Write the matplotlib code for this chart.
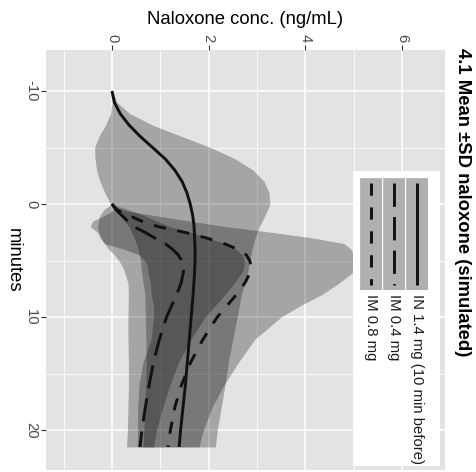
import matplotlib
matplotlib.use('Agg')
import matplotlib.pyplot as plt
from matplotlib.patches import Rectangle
from matplotlib.lines import Line2D
import numpy as np

plt.rcParams['font.family'] = ['Liberation Sans', 'DejaVu Sans']
plt.rcParams['axes.unicode_minus'] = False

# IN 1.4 mg (10 min before)
t_in = [-10, -9, -8, -7, -6, -5, -4, -3, -2, -1, 0, 1, 2, 3, 4, 5, 6, 8, 10, 12, 14, 16, 18, 20, 21.5]
mean_in = [0, 0.05, 0.17, 0.35, 0.58, 0.84, 1.1, 1.3, 1.45, 1.55, 1.62, 1.67, 1.7, 1.71, 1.72, 1.72,
           1.71, 1.68, 1.64, 1.6, 1.56, 1.52, 1.47, 1.42, 1.39]
sd_in = [0, 0.05, 0.2, 0.48, 0.85, 1.2, 1.45, 1.62, 1.7, 1.7, 1.65, 1.5, 1.35, 1.25, 1.18, 1.13,
         1.1, 1.0, 0.95, 0.9, 0.85, 0.82, 0.79, 0.76, 0.75]

# IM 0.4 mg
t_im4 = [0, 0.5, 1, 1.5, 2, 2.5, 3, 3.5, 4, 4.5, 5, 5.5, 6, 7, 8, 10, 12, 14, 16, 18, 20, 21.5]
mean_im4 = [0, 0.08, 0.2, 0.32, 0.45, 0.68, 0.88, 1.1, 1.25, 1.37, 1.44, 1.47, 1.48, 1.43, 1.34,
            1.13, 0.98, 0.86, 0.77, 0.69, 0.62, 0.58]
sd_im4 = [0, 0.25, 0.45, 0.6, 0.75, 0.95, 1.1, 1.25, 1.32, 1.32, 1.3, 1.26, 1.22, 1.1, 1.0,
          0.8, 0.65, 0.52, 0.43, 0.36, 0.3, 0.28]

# IM 0.8 mg
t_im8 = [0, 0.5, 1, 1.5, 2, 2.5, 3, 3.5, 4, 4.5, 5, 5.5, 6, 7, 8, 9, 10, 12, 14, 16, 18, 20, 21.5]
mean_im8 = [0, 0.1, 0.35, 0.6, 0.95, 1.5, 1.95, 2.32, 2.6, 2.78, 2.85, 2.88, 2.87, 2.75, 2.58,
            2.38, 2.18, 1.88, 1.63, 1.44, 1.3, 1.21, 1.16]
sd_im8 = [0, 0.05, 0.5, 1.0, 1.4, 1.8, 2.2, 2.48, 2.35, 2.22, 2.17, 2.14, 2.13, 1.95, 1.77,
          1.52, 1.32, 1.07, 0.99, 0.88, 0.77, 0.68, 0.64]

labels = ['IN 1.4 mg (10 min before)', 'IM 0.4 mg', 'IM 0.8 mg']

W, H = 477, 472
fig = plt.figure(figsize=(W / 100, H / 100), dpi=100)
ax = fig.add_axes([46 / W, 1 - 470 / H, (445 - 46) / W, (470 - 50) / H])
ax.set_facecolor('#E3E3E3')
ax.set_xlim(-1.366, 6.894)
ax.set_ylim(23.54, -13.63)
for s in ax.spines.values():
    s.set_visible(False)
ax.set_xticks([0, 2, 4, 6])
ax.set_xticks([-1, 1, 3, 5], minor=True)
ax.set_yticks([-10, 0, 10, 20])
ax.set_yticks([-5, 5, 15], minor=True)
ax.grid(which='major', color='white', lw=1.1)
ax.grid(which='minor', color='white', lw=0.55)
ax.set_axisbelow(True)
ax.xaxis.tick_top()
ax.tick_params(which='minor', length=0)
ax.tick_params(which='major', length=3.5, width=0.8, color='#333333',
               labelcolor='#4D4D4D', labelsize=10.7, pad=2)
for lbl in ax.get_xticklabels():
    lbl.set_rotation(-90)
    lbl.set_va('bottom')
    lbl.set_ha('center')
for lbl in ax.get_yticklabels():
    lbl.set_rotation(-90)
    lbl.set_ha('right')
    lbl.set_va('center')

series = [
    (t_in, mean_in, sd_in, '-'),
    (t_im4, mean_im4, sd_im4, (0, (8, 3.5))),
    (t_im8, mean_im8, sd_im8, (0, (4.2, 4))),
]
for t, m, s, ls in series:
    m = np.array(m)
    s = np.array(s)
    ax.fill_betweenx(t, m - s, m + s, color='black', alpha=0.27, lw=0)
for t, m, s, ls in series:
    ax.plot(m, t, color='#111111', lw=2.1, ls=ls, dash_capstyle='butt', solid_capstyle='butt')

# overlay in pixel coordinates for titles and legend
ov = fig.add_axes([0, 0, 1, 1])
ov.set_xlim(0, W)
ov.set_ylim(H, 0)
ov.axis('off')
ov.patch.set_visible(False)

ov.text(245, 20, 'Naloxone conc. (ng/mL)', ha='center', va='center', fontsize=13.3)
ov.text(13, 260, 'minutes', ha='center', va='center', rotation=-90, fontsize=13.3)
ov.text(462, 48, '4.1 Mean \u00b1SD naloxone (simulated)', ha='center', va='top',
        rotation=-90, fontsize=13.3, fontweight='bold')

ov.add_patch(Rectangle((353, 171), 87, 295, facecolor='white', edgecolor='none'))
key_x = [417, 394, 371]
key_ls = ['-', (0, (8, 3.5)), (0, (4.2, 4))]
for kx, ls, lab in zip(key_x, key_ls, labels):
    ov.add_patch(Rectangle((kx - 11, 178), 22, 112, facecolor='#F2F2F2', edgecolor='white', lw=0.8))
    ov.add_patch(Rectangle((kx - 11, 178), 22, 112, facecolor='black', alpha=0.27, edgecolor='none'))
    ov.add_line(Line2D([kx, kx], [183, 285], color='#111111', lw=2.1, ls=ls,
                       dash_capstyle='butt', solid_capstyle='butt'))
    ov.text(kx, 294, lab, ha='center', va='top', rotation=-90, fontsize=10.7, color='#1A1A1A')

fig.savefig('out.png', dpi=100)
